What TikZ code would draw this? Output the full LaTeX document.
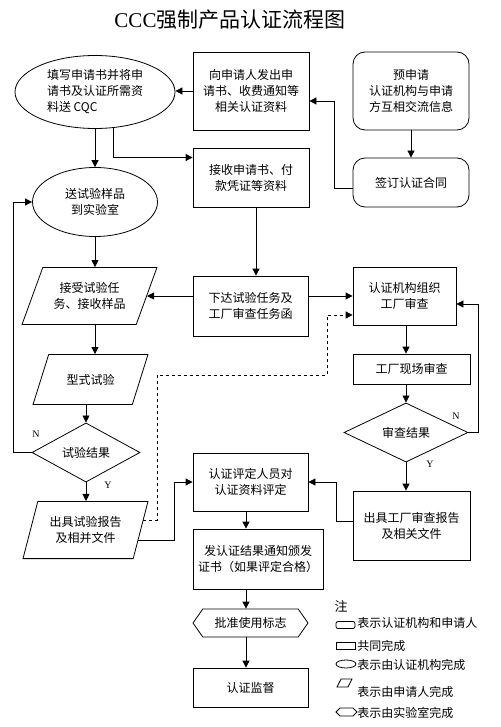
\documentclass[tikz,border=0pt]{standalone}
\usepackage{fontspec}
\setmainfont{Liberation Serif}
\newfontfamily\cjk{Noto Sans CJK SC}
\usetikzlibrary{arrows,shapes.geometric,shapes.symbols}
\usepgflibrary{arrows.meta}

\begin{document}
\begin{tikzpicture}[x=1pt,y=-1pt,line width=0.8pt,
        every node/.style={font=\cjk\fontsize{12}{16}\selectfont,align=center,inner sep=1pt},
        box/.style 2 args={draw,rectangle,minimum width=#1,minimum height=#2},
        rbox/.style 2 args={box={#1}{#2},rounded corners=12pt},
        oval/.style 2 args={draw,ellipse,minimum width=#1,minimum height=#2,inner sep=0pt},
        slant/.style n args={4}{draw,trapezium,trapezium left angle=#3,trapezium right angle=#4,
            trapezium stretches body,minimum width=#1,inner xsep=0pt,inner ysep=#2},
        test/.style 2 args={draw,diamond,minimum width=#1,minimum height=#2,inner sep=0pt},
        hexa/.style 2 args={draw,signal,signal to=west and east,minimum width=#1,minimum height=#2,inner sep=0pt},
        flow/.style={-{Triangle[length=7pt,width=7pt]}},
        yn/.style={font=\fontsize{10}{12}\selectfont}]
    \useasboundingbox (0,0) rectangle (500,727);
    \node[font=\fontsize{21}{24}\selectfont] (title) at (230,20) {CCC{\cjk 强制产品认证流程图}};
    % top row
    \node[oval={160}{73},align=left] (fill) at (95,92) {填写申请书并将申\\请书及认证所需资\\料送 CQC};
    \node[box={116}{78}] (issue) at (251,91) {向申请人发出申\\请书、收费通知等\\相关认证资料};
    \node[rbox={116}{78}] (pre) at (411,91) {预申请\\认证机构与申请\\方互相交流信息};
    \node[rbox={116}{49}] (sign) at (411,182.5) {签订认证合同};
    \node[box={116}{59}] (receive) at (251,177.5) {接收申请书、付\\款凭证等资料};
    \node[oval={125}{69}] (send) at (95,202) {送试验样品\\到实验室};
    % middle
    \node[slant={135}{15}{70}{110}] (accept) at (89.5,296) {接受试验任\\务、接收样品};
    \node[box={115}{60}] (assign) at (250.5,306) {下达试验任务及\\工厂审查任务函};
    \node[box={103}{58}] (organize) at (404.5,296) {认证机构组织\\工厂审查};
    \node[slant={115}{19.5}{72.6}{107.4}] (typetest) at (90.5,379.5) {型式试验};
    \node[box={117}{30}] (onsite) at (411.5,369) {工厂现场审查};
    \node[test={108}{59}] (result1) at (86,452.5) {试验结果};
    \node[test={124}{39}] (result2) at (406,432.5) {审查结果};
    % bottom
    \node[slant={125}{15}{75.5}{104.5}] (report1) at (85.5,530) {出具试验报告\\及相并文件};
    \node[box={117}{69}] (report2) at (411.5,525.5) {出具工厂审查报告\\及相关文件};
    \node[box={115}{58}] (evaluate) at (250.5,482) {认证评定人员对\\认证资料评定};
    \node[box={130}{60}] (notify) at (258,559) {发认证结果通知颁发\\证书（如果评定合格）};
    \node[hexa={115}{28},signal pointer angle=110] (approve) at (250.5,623) {批准使用标志};
    \node[box={115}{39}] (supervise) at (250.5,687.5) {认证监督};
    \coordinate (d1) at (157,375);
    \coordinate (d2) at (327,375);
    % connectors
    \draw[flow] (issue.west) -- (issue.west -| fill.east);
    \draw[flow] ([yshift=-5.5pt]sign.west) -- ++(-18,0) |- ([yshift=-10pt]issue.east);
    \draw[flow] (pre) -- (sign);
    \draw[flow] (fill) -- (send);
    \draw[flow] (fill.-63) |- ([yshift=20pt]receive.west);
    \draw[flow] ([xshift=5pt]receive.south) -- ([xshift=5pt]receive.south |- assign.north);
    \draw[flow] (send.south) -- (send.south |- accept.north);
    \draw[flow] ([yshift=10pt]assign.west) -- ([yshift=10pt]assign.west -| accept.east);
    \draw[flow] ([yshift=10pt]assign.east) -- ([yshift=10pt]assign.east -| organize.west);
    \draw[flow] (send.south |- accept.south) -- (send.south |- typetest.north);
    \draw[flow] (result1.north |- typetest.south) -- (result1.north);
    \draw[flow] (result1.south) -- (result1.south |- report1.north);
    \draw[flow] (result1.west) -- ++(-18,0) |- (send.west);
    \draw[flow] (report1.-11) -| ([xshift=-18pt]evaluate.west) -- (evaluate.west);
    \draw[flow,dashed] (report1.9) -| (d1) -- (d2) |- ([yshift=-19pt]organize.west);
    \draw[flow] (result2.north |- organize.south) -- (result2.north |- onsite.north);
    \draw[flow] (result2.north |- onsite.south) -- (result2.north);
    \draw[flow] (result2.east) -- ++(10,0) |- ([yshift=-8pt]organize.east);
    \draw[flow] (result2.south) -- (result2.south |- report2.north);
    \draw[flow] ([yshift=4.5pt]report2.west) -| ([xshift=28pt]evaluate.east) -- (evaluate.east);
    \draw[flow] ([xshift=-4.5pt]evaluate.south) -- ([xshift=-4.5pt]evaluate.south |- notify.north);
    \draw[flow] ([xshift=-4.5pt]evaluate.south |- notify.south) -- ([xshift=-4.5pt]evaluate.south |- approve.north);
    \draw[flow] ([xshift=-4.5pt]approve.south) -- ([xshift=-4.5pt]approve.south |- supervise.north);
    \node[yn] (n1) at (36,434) {N};
    \node[yn] (y1) at (108,485) {Y};
    \node[yn] (n2) at (456,416) {N};
    \node[yn] (y2) at (430,464) {Y};
    % legend
    \node[font=\cjk\fontsize{13}{15}\selectfont] (note) at (341,606) {注};
    \node[box={19}{7},rounded corners=2pt,inner sep=0pt] (lg1) at (345.5,625) {};
    \node[box={19}{7},inner sep=0pt] (lg2) at (345.5,645.5) {};
    \node[oval={20}{8}] (lg3) at (346,664) {};
    \node[slant={15}{4}{63}{117}] (lg4) at (344.5,683) {};
    \node[hexa={21}{8},signal pointer angle=90] (lg5) at (346.5,712) {};
    \node[anchor=west] (lt1) at (356,623) {表示认证机构和申请人};
    \node[anchor=west] (lt2) at (356,646) {共同完成};
    \node[anchor=west] (lt3) at (356,665) {表示由认证机构完成};
    \node[anchor=west] (lt4) at (356,692) {表示由申请人完成};
    \node[anchor=west] (lt5) at (356,713) {表示由实验室完成};
\end{tikzpicture}
\end{document}
